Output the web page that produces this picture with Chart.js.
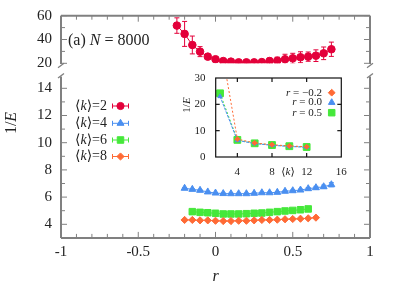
<!DOCTYPE html>
<html><head><meta charset="utf-8">
<script src="https://cdn.jsdelivr.net/npm/chart.js@4.4.0/dist/chart.umd.min.js"></script>
<style>
html,body{margin:0;padding:0;background:#fff;}
#wrap{position:relative;width:407px;height:285px;overflow:hidden;background:#fff;}
canvas{position:absolute;}
</style></head><body>
<div id="wrap">
<canvas id="cTop" style="left:0;top:0" width="407" height="72"></canvas>
<canvas id="cBot" style="left:0;top:60px" width="407" height="225"></canvas>
<canvas id="cIn" style="left:170px;top:70px" width="190" height="115"></canvas>
</div>
<script>
// ---------------- DATA ----------------
const rK2 = [-0.25,-0.2,-0.15,-0.1,-0.05,0,0.05,0.1,0.15,0.2,0.25,0.3,0.35,0.4,0.45,0.5,0.55,0.6,0.65,0.7,0.75];
const valK2 = [51.7,44.7,35.4,29.8,25.6,23.4,21.9,21.4,20.8,20.8,20.8,21.0,21.9,22.2,23.4,24.2,25.1,25.6,26.4,28.4,31.8];
const errK2 = [6.5,10.5,7.5,4.2,2.0,1.2,1.0,1.0,1.0,1.0,1.5,2.0,2.5,3.0,4.2,4.2,4.6,3.9,4.9,5.3,6.0];

const rK4 = [-0.2,-0.15,-0.1,-0.05,0,0.05,0.1,0.15,0.2,0.25,0.3,0.35,0.4,0.45,0.5,0.55,0.6,0.65,0.7,0.75];
const valK4 = [6.65,6.57,6.50,6.38,6.30,6.26,6.25,6.25,6.25,6.28,6.32,6.32,6.35,6.43,6.47,6.52,6.62,6.69,6.76,6.91];
const errK4 = [0.04,0.04,0.04,0.04,0.04,0.04,0.04,0.04,0.04,0.04,0.04,0.05,0.05,0.05,0.06,0.07,0.08,0.10,0.12,0.15];

const rK6 = [-0.15,-0.1,-0.05,0,0.05,0.1,0.15,0.2,0.25,0.3,0.35,0.4,0.45,0.5,0.55,0.6];
const valK6 = [4.93,4.88,4.85,4.81,4.76,4.76,4.76,4.78,4.81,4.83,4.88,4.93,4.98,5.02,5.07,5.13];

const rK8 = [-0.2,-0.15,-0.1,-0.05,0,0.05,0.1,0.15,0.2,0.25,0.3,0.35,0.4,0.45,0.5,0.55,0.6,0.65];
const valK8 = [4.32,4.32,4.29,4.29,4.26,4.24,4.24,4.26,4.26,4.29,4.32,4.32,4.34,4.37,4.39,4.41,4.44,4.49];

const kIn = [2,4,6,8,10,12];
const inRm02 = [44.5,6.8,5.35,4.65,4.2,3.9];
const inR00 = [23.0,6.3,5.1,4.45,4.0,3.7];
const inR05 = [24.2,6.5,5.2,4.55,4.1,3.8];

const xTickLabels = ['-1','-0.5','0','0.5','1'];
const xTickVals = [-1,-0.5,0,0.5,1];
const yTopLabels = [20,40,60];
const yBotLabels = [4,6,8,10,12,14];
const inXLabels = [4,8,12,16];
const inYLabels = [0,10,20,30];

// ---------------- STYLE ----------------
const RED = '#e3003a', BLUE = '#4a8ff0', GREEN = '#45e83a', ORANGE = '#ff6a35';
const FRAME = '#808080';
const FONT = "'Liberation Serif','DejaVu Serif','Times New Roman',serif";
Chart.defaults.animation = false;

function pts(xs, ys){ return xs.map((x,i)=>({x:x, y:ys[i]})); }

function rich(ctx, parts, x, y, size, align){
  let w = 0;
  const ws = parts.map(p=>{ ctx.font = (p[1]?'italic ':'') + size + 'px ' + FONT; const m = ctx.measureText(p[0]).width; w += m; return m; });
  let cx = align==='right' ? x - w : align==='center' ? x - w/2 : x;
  ctx.textBaseline = 'middle'; ctx.textAlign = 'left';
  parts.forEach((p,i)=>{ ctx.font = (p[1]?'italic ':'') + size + 'px ' + FONT; ctx.fillText(p[0], cx, y); cx += ws[i]; });
}
function line(ctx,x1,y1,x2,y2){ ctx.beginPath(); ctx.moveTo(x1,y1); ctx.lineTo(x2,y2); ctx.stroke(); }

const errorBars = {
  id:'errorBars',
  beforeDatasetsDraw(chart){
    const {ctx, chartArea:a, scales:{x,y}} = chart;
    ctx.save();
    ctx.beginPath(); ctx.rect(a.left, a.top, a.right-a.left, a.bottom-a.top); ctx.clip();
    chart.data.datasets.forEach(ds=>{
      if(!ds.errs) return;
      ctx.strokeStyle = ds.borderColor; ctx.lineWidth = 1;
      ds.data.forEach((p,i)=>{
        const e = ds.errs[i]; if(!e) return;
        const px = x.getPixelForValue(p.x), y1 = y.getPixelForValue(p.y-e), y2 = y.getPixelForValue(p.y+e);
        line(ctx,px,y1,px,y2); line(ctx,px-2.5,y1,px+2.5,y1); line(ctx,px-2.5,y2,px+2.5,y2);
      });
    });
    ctx.restore();
  }
};

function xTicks(ctx, x, yEdge, dir){
  for(let v=-10; v<=10; v++){
    const px = x.getPixelForValue(v/10);
    const len = (v%5===0)?6:4;
    line(ctx, px, yEdge, px, yEdge + dir*len);
  }
}

const topFrame = {
  id:'topFrame',
  afterDraw(chart){
    const {ctx, chartArea:a, scales:{x,y}} = chart;
    ctx.save();
    ctx.strokeStyle = FRAME; ctx.lineWidth = 2;
    line(ctx, a.left, a.top, a.right, a.top);
    line(ctx, a.left, a.top, a.left, 64);
    line(ctx, a.right, a.top, a.right, 64);
    ctx.lineWidth = 1.3;
    line(ctx, a.left-3, 67.7, a.left+3, 63.3);
    line(ctx, a.right-3, 67.7, a.right+3, 63.3);
    ctx.lineWidth = 1;
    xTicks(ctx, x, a.top, 1);
    [20,30,40,50,60].forEach(v=>{
      const py = y.getPixelForValue(v); const len = (v%20===0)?6:4;
      line(ctx, a.left, py, a.left+len, py); line(ctx, a.right, py, a.right-len, py);
    });
    ctx.fillStyle = '#222';
    yTopLabels.forEach(v=>{ rich(ctx, [[String(v),false]], a.left-9, y.getPixelForValue(v), 15, 'right'); });
    rich(ctx, [['(a) ',false],['N',true],[' = 8000',false]], 68, 41, 16, 'left');
    ctx.restore();
  }
};

const botFrame = {
  id:'botFrame',
  afterDraw(chart){
    const {ctx, chartArea:a, scales:{x,y}} = chart;
    const off = 60;
    ctx.save();
    ctx.strokeStyle = FRAME; ctx.lineWidth = 2;
    line(ctx, a.left, a.bottom, a.right, a.bottom);
    line(ctx, a.left, a.bottom, a.left, 76.5-off);
    line(ctx, a.right, a.bottom, a.right, 76.5-off);
    ctx.lineWidth = 1.3;
    line(ctx, a.left-3, 78-off, a.left+3, 73.5-off);
    line(ctx, a.right-3, 78-off, a.right+3, 73.5-off);
    ctx.lineWidth = 1;
    xTicks(ctx, x, a.bottom, -1);
    for(let v=4; v<=14; v++){
      const py = y.getPixelForValue(v); const len = (v%2===0)?6:4;
      line(ctx, a.left, py, a.left+len, py); line(ctx, a.right, py, a.right-len, py);
    }
    ctx.fillStyle = '#222';
    yBotLabels.forEach(v=>{ rich(ctx, [[String(v),false]], a.left-9, y.getPixelForValue(v), 15, 'right'); });
    xTickVals.forEach((v,i)=>{ rich(ctx, [[xTickLabels[i],false]], x.getPixelForValue(v), 252.5-off, 15, 'center'); });
    rich(ctx, [['r',true]], x.getPixelForValue(0), 277-off, 16, 'center');
    ctx.save(); ctx.translate(12, 123-off); ctx.rotate(-Math.PI/2);
    rich(ctx, [['1/',false],['E',true]], 0, 0, 16, 'center');
    ctx.restore();
    const items = [['2',RED,'circle',3.6],['4',BLUE,'triangle',4],['6',GREEN,'rect',4.6],['8',ORANGE,'rectRot',3.6]];
    const ys = [106,123.3,140,156.5];
    items.forEach((it,i)=>{
      const yy = ys[i]-off;
      ctx.fillStyle = '#222';
      rich(ctx, [['\u27E8',false],['k',true],['\u27E9=' + it[0],false]], 107, yy, 14, 'right');
      ctx.strokeStyle = it[1]; ctx.fillStyle = it[1]; ctx.lineWidth = 1;
      line(ctx, 112.5, yy, 128.5, yy); line(ctx,112.5,yy-2.5,112.5,yy+2.5); line(ctx,128.5,yy-2.5,128.5,yy+2.5);
      Chart.helpers.drawPoint(ctx, {pointStyle:it[2], radius:it[3], borderWidth:1}, 120.5, yy);
    });
    ctx.restore();
  }
};

const inFrame = {
  id:'inFrame',
  afterDraw(chart){
    const {ctx, chartArea:a, scales:{x,y}} = chart;
    const ox = 170, oy = 70;
    ctx.save();
    ctx.strokeStyle = '#111'; ctx.lineWidth = 1.2;
    ctx.strokeRect(a.left, a.top, a.right-a.left, a.bottom-a.top);
    [4,8,12].forEach(v=>{ const px = x.getPixelForValue(v); line(ctx,px,a.top,px,a.top+4); line(ctx,px,a.bottom,px,a.bottom-4); });
    [10,20].forEach(v=>{ const py = y.getPixelForValue(v); line(ctx,a.left,py,a.left+4,py); line(ctx,a.right,py,a.right-4,py); });
    ctx.fillStyle = '#222';
    inXLabels.forEach(v=>{ rich(ctx, [[String(v),false]], x.getPixelForValue(v), 172.5-oy, 11, 'center'); });
    rich(ctx, [['\u27E8',false],['k',true],['\u27E9',false]], 288-ox, 172.5-oy, 11, 'center');
    inYLabels.forEach(v=>{ rich(ctx, [[String(v),false]], 205.5-ox, y.getPixelForValue(v), 11, 'right'); });
    ctx.save(); ctx.translate(187-ox, 105-oy); ctx.rotate(-Math.PI/2);
    rich(ctx, [['1/',false],['E',true]], 0, 0, 11, 'center');
    ctx.restore();
    const items = [['\u22120.2',ORANGE,'rectRot',3.4],['0.0',BLUE,'triangle',3.8],['0.5',GREEN,'rect',4.6]];
    const ys = [92.7,102.5,112.7];
    items.forEach((it,i)=>{
      const yy = ys[i]-oy;
      ctx.fillStyle = '#222';
      rich(ctx, [['r',true],[' = ' + it[0],false]], 322-ox, yy, 11, 'right');
      ctx.fillStyle = it[1]; ctx.strokeStyle = it[1]; ctx.lineWidth = 1;
      Chart.helpers.drawPoint(ctx, {pointStyle:it[2], radius:it[3], borderWidth:1}, 331.7-ox, yy);
    });
    ctx.restore();
  }
};

function ds(xs, ys, color, style, radius, errs, extra){
  return Object.assign({data:pts(xs,ys), showLine:true, borderColor:color, backgroundColor:color,
    borderWidth:1, pointStyle:style, pointRadius:radius, pointBorderWidth:1, errs:errs}, extra||{});
}
const common = (xmin,xmax,ymin,ymax,pad)=>({
  responsive:false, animation:false, events:[],
  layout:{padding:pad},
  plugins:{legend:{display:false}, tooltip:{enabled:false}},
  scales:{x:{type:'linear', min:xmin, max:xmax, display:false}, y:{type:'linear', min:ymin, max:ymax, display:false}}
});

new Chart(document.getElementById('cTop'), {
  type:'scatter',
  data:{datasets:[ds(rK2, valK2, RED, 'circle', 3.8, errK2)]},
  options:common(-1,1,20,60,{left:61,right:37,top:15.7,bottom:72-63.3}),
  plugins:[errorBars, topFrame]
});

new Chart(document.getElementById('cBot'), {
  type:'scatter',
  data:{datasets:[
    ds(rK8, valK8, ORANGE, 'rectRot', 3.6, null),
    ds(rK6, valK6, GREEN, 'rect', 4.6, null),
    ds(rK4, valK4, BLUE, 'triangle', 4, errK4)
  ]},
  options:common(-1,1,3,15,{left:61,right:37,top:14.7,bottom:225-177.9}),
  plugins:[errorBars, botFrame]
});

new Chart(document.getElementById('cIn'), {
  type:'scatter',
  data:{datasets:[
    ds(kIn, inRm02, ORANGE, 'rectRot', 2.5, null, {borderDash:[2,2]}),
    ds(kIn, inR00, BLUE, 'triangle', 2.5, null, {borderDash:[3,1]}),
    ds(kIn, inR05, GREEN, 'rect', 4.8, null, {borderDash:[2,2]})
  ]},
  options:common(1.5,16,0,30,{left:45.7,right:18.7,top:8,bottom:28}),
  plugins:[inFrame]
});
</script>
</body></html>
